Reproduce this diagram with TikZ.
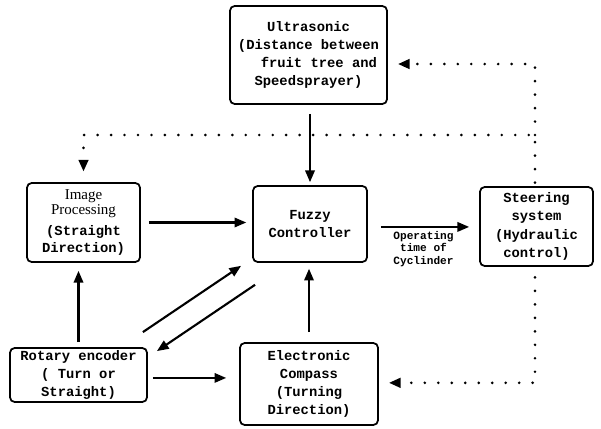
\documentclass[tikz,border=0pt]{standalone}
\usepackage{fontspec}
\setmainfont{Liberation Serif}
\setmonofont{Liberation Mono}
\usetikzlibrary{arrows.meta}

\newcommand{\imgfont}{\rmfamily\mdseries\fontsize{12.8}{14}\selectfont}

\begin{document}
\begin{tikzpicture}[
    x=0.03cm, y=-0.03cm,
    font=\ttfamily\bfseries\fontsize{11.8}{15.5}\selectfont,
    >={Triangle[length=10pt,width=8pt]},
    % Box styles
    box/.style={
        rectangle, draw=black, line width=1.5pt, rounded corners=4pt,
        align=center, inner sep=0pt
    },
    % Arrow styles
    arr/.style={->, line width=1.8pt},
    dotarr/.style={->, line width=2.5pt, line cap=round, dash pattern=on 0pt off 11.5pt},
    lbl/.style={font=\ttfamily\bfseries\fontsize{9.5}{10.5}\selectfont, align=center, inner sep=1pt}
]
\useasboundingbox (0,0) rectangle (601,428);

% ==========================================
% NODES & PLACEMENT
% ==========================================

% --- Sensor (top) ---
\node[box, minimum width=4.71cm, minimum height=2.94cm] (ultra) at (308.5,55)
    {Ultrasonic\\(Distance between\\\hspace*{1.5em}fruit tree and\\Speedsprayer)};

% --- Middle row ---
\node[box, minimum width=3.39cm, minimum height=2.37cm] (img) at (83.5,222.5)
    {{\imgfont Image}\\[-2.5pt]{\imgfont Processing}\\[2.5pt](Straight\\[-1pt]Direction)};
\node[box, minimum width=3.42cm, minimum height=2.28cm] (fuzzy) at (310,224)
    {Fuzzy\\Controller};
\node[box, minimum width=3.39cm, minimum height=2.37cm] (steer) at (536.5,226.5)
    {Steering\\system\\(Hydraulic\\control)};

% --- Bottom row ---
\node[box, minimum width=4.11cm, minimum height=1.62cm] (rotary) at (78.5,375)
    {Rotary encoder\\( Turn or\\Straight)};
\node[box, minimum width=4.14cm, minimum height=2.46cm] (compass) at (309,384)
    {Electronic\\Compass\\(Turning\\Direction)};

% ==========================================
% ROUTING & ARROWS
% ==========================================

% 1. Inputs to Fuzzy Controller
\draw[arr, shorten <=7.7pt, shorten >=2.5pt] (ultra.south -| fuzzy.north) -- (fuzzy.north);
\draw[arr, shorten <=6.8pt, shorten >=5pt] (img.east) -- (img.east -| fuzzy.west);
\draw[arr, shorten <=8.5pt, shorten >=5pt] (compass.north) -- (compass.north |- fuzzy.south);

% 2. Fuzzy Controller to Steering
\draw[arr, shorten <=11pt, shorten >=8.5pt] ([yshift=-2.5pt]fuzzy.east) -- ([yshift=-2.5pt]fuzzy.east -| steer.west)
    node[midway, below=2pt, lbl] {Operating\\time of\\Cyclinder};

% 3. Rotary encoder links
\draw[arr, shorten <=4.3pt, shorten >=6.8pt] (rotary.north) -- (img.south -| rotary.north);
\draw[arr, shorten <=4.3pt, shorten >=11pt] ([yshift=-2.5pt]rotary.east) -- ([yshift=-2.5pt]rotary.east -| compass.west);
\draw[arr] ([xshift=-4.3pt, yshift=12.8pt]rotary.north east) -- ([xshift=-9.4pt, yshift=-2.5pt]fuzzy.south west);
\draw[arr] ([xshift=2.5pt, yshift=-18.7pt]fuzzy.south west) -- ([xshift=7.7pt, yshift=-3.4pt]rotary.north east);

% 4. Steering feedback (dotted)
\coordinate (split) at (535,135);
\draw[dotarr, shorten <=3pt, shorten >=9pt] (split |- steer.north) -- (split) -| (img.north);
\draw[dotarr, shorten >=8.5pt] (split) |- ([yshift=-7.7pt]ultra.east);
\draw[dotarr, shorten <=9pt, shorten >=8.5pt] (split |- steer.south) |- ([yshift=1pt]compass.east);

\end{tikzpicture}
\end{document}
